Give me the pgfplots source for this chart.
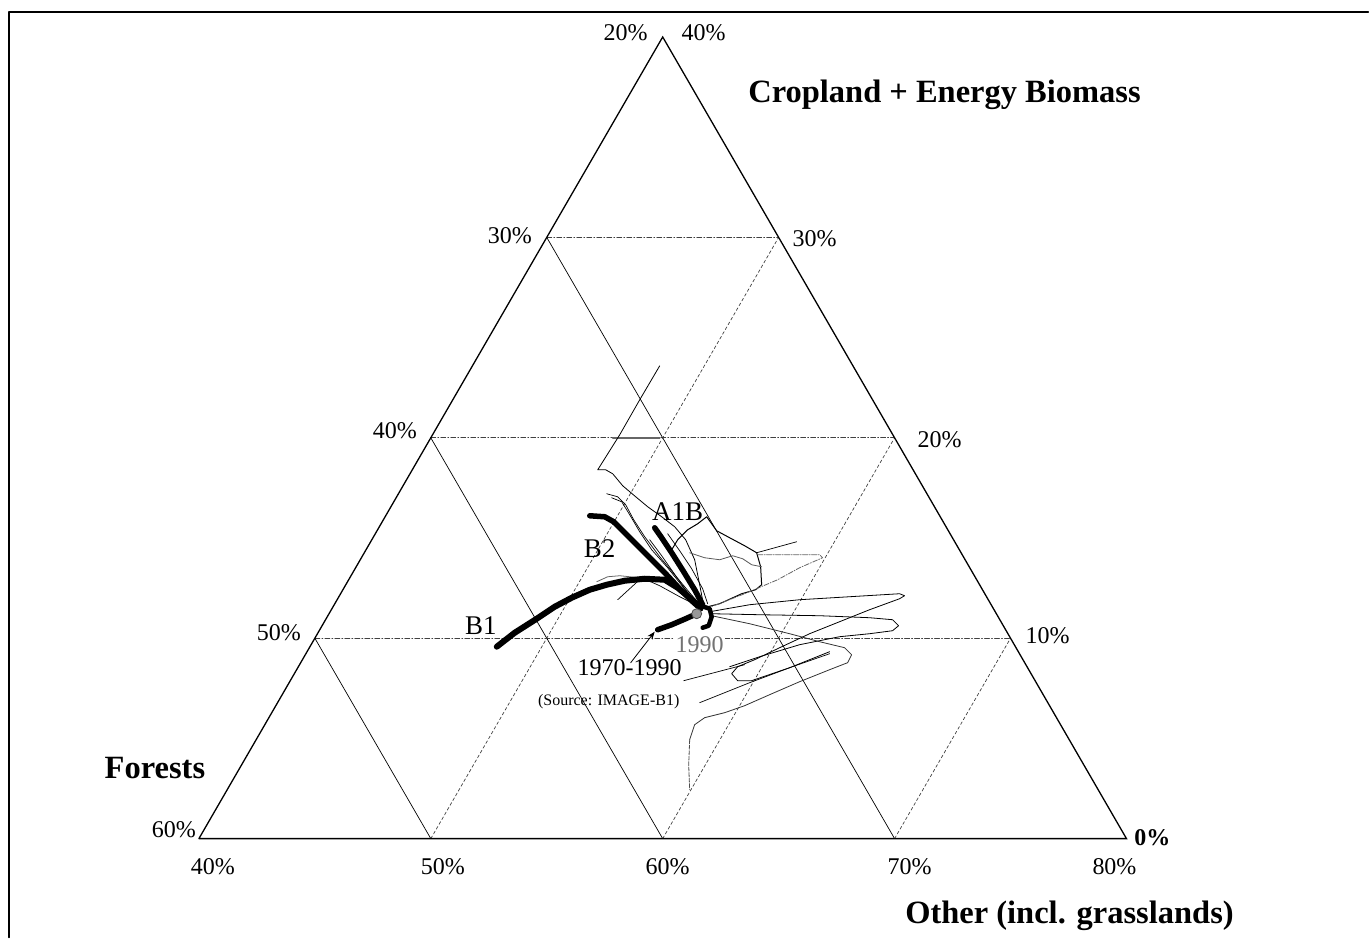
\documentclass[border=0pt]{standalone}
\usepackage{pgfplots}
\pgfplotsset{compat=1.18}
\usepackage{fontspec}
\setmainfont{Liberation Serif}
\usetikzlibrary{arrows.meta}
\tikzset{
  tl/.style={font=\fontsize{24bp}{28bp}\selectfont, inner sep=0pt},
  bl/.style={font=\fontsize{27bp}{31bp}\selectfont, inner sep=0pt},
  ttl/.style={font=\fontsize{32.5bp}{36bp}\selectfont\bfseries, inner sep=0pt},
}
\begin{document}
\begin{tikzpicture}
\begin{axis}[
  width=1369bp, height=938bp, scale only axis,
  xmin=0, xmax=1369, ymin=0, ymax=938, y dir=reverse,
  hide axis, clip=false,
  every axis plot/.append style={line join=round, line cap=round},
]
\path (axis cs:0,0) rectangle (axis cs:1369,938);
% outer frame (top and left)
\addplot[black, line width=1.3bp] coordinates {(9,938) (9,12) (1369,12)};

% ---- grid: constant cropland (dash-dot horizontals)
\addplot[black!75, line width=0.7bp, dash pattern=on 5bp off 2bp on 1bp off 2bp] coordinates {(315,638.5) (1011,638.5)};
\addplot[black!75, line width=0.7bp, dash pattern=on 5bp off 2bp on 1bp off 2bp] coordinates {(431,438) (895,438)};
\addplot[black!75, line width=0.7bp, dash pattern=on 5bp off 2bp on 1bp off 2bp] coordinates {(547,237.5) (779,237.5)};
% ---- grid: constant forests (solid)
\addplot[black, line width=0.7bp] coordinates {(315,638.5) (431,839)};
\addplot[black, line width=0.7bp] coordinates {(431,438) (663,839)};
\addplot[black, line width=0.7bp] coordinates {(547,237.5) (895,839)};
% ---- grid: constant other (dashed)
\addplot[black!75, line width=0.7bp, dash pattern=on 3bp off 2.5bp] coordinates {(431,839) (779,237.5)};
\addplot[black!75, line width=0.7bp, dash pattern=on 3bp off 2.5bp] coordinates {(663,839) (895,438)};
\addplot[black!75, line width=0.7bp, dash pattern=on 3bp off 2.5bp] coordinates {(895,839) (1011,638.5)};
% ---- triangle
\addplot[black, line width=1.3bp, line join=miter] coordinates {(199,839) (663,37) (1127,839) (199,839)};

% ---- regional trajectories (thin)
\addplot[black!60, line width=1.8bp] coordinates {(613,438) (660,438)};
\addplot[black, line width=0.8bp] coordinates {(660,366) (640,400) (620,435) (598,470) (606,470) (613,474) (623,486) (636,497) (648,507) (662,517) (675,527) (686,540) (695,560) (700,585) (704,606)};
\addplot[black, line width=0.7bp] coordinates {(607,494) (618,497) (626,505) (634,520) (645,537) (660,557) (675,575) (690,593) (703,608)};
\addplot[black, line width=0.7bp] coordinates {(612,498) (622,502) (630,515) (640,532) (652,550) (668,568) (684,588) (700,606)};
\addplot[black, line width=1.0bp] coordinates {(704,608) (720,604) (742,594) (756,590) (762,585) (761,567) (757,553) (745,546) (730,538) (717,531) (707,517) (698,524) (688,530) (678,540) (672,550)};
\addplot[black, line width=0.7bp] coordinates {(757,553) (797,542)};
\addplot[black!60, line width=0.8bp, dash pattern=on 5bp off 1.5bp on 1bp off 1.5bp] coordinates {(758,555) (820,555) (823,558) (800,568) (778,580) (745,594) (722,603) (706,609)};
\addplot[black!65, line width=0.8bp] coordinates {(690,553) (705,558) (720,560) (733,556) (743,559) (752,565) (762,567)};
\addplot[black, line width=0.7bp] coordinates {(618,600) (630,589) (642,578) (660,586) (680,597) (700,607)};
\addplot[black!60, line width=0.8bp] coordinates {(597,582) (608,577) (620,576) (640,578)};
\addplot[black, line width=0.7bp] coordinates {(668,534) (680,551) (692,569) (703,589) (708,604)};
\addplot[black, line width=0.7bp] coordinates {(650,540) (662,556) (676,576) (690,596) (700,610)};
% lower-right loops
\addplot[black, line width=0.8bp] coordinates {(710,612) (750,605) (800,600) (850,597) (900,594) (905,596) (900,599) (870,610) (840,622) (810,634) (780,648) (755,660) (738,667) (732,674) (738,681) (752,681) (790,668) (830,652)};
\addplot[black, line width=0.8bp] coordinates {(712,614) (760,615) (820,616) (870,618) (893,620) (899,626) (893,631) (870,634) (840,637) (800,645) (760,657) (730,667)};
\addplot[black!80, line width=0.8bp] coordinates {(712,616) (750,624) (790,634) (820,642) (845,648) (852,655) (848,663) (830,670) (800,682) (770,695) (745,706) (725,713) (705,718) (695,725) (690,740)};
\addplot[black!70, line width=0.8bp, dash pattern=on 4bp off 1.5bp] coordinates {(690,740) (689,765) (690,790)};
\addplot[black, line width=0.7bp] coordinates {(700,703) (725,693) (750,683) (790,668) (830,654)};
\addplot[black, line width=0.7bp] coordinates {(684,681) (745,665)};

% ---- scenario trajectories (thick)
\addplot[black, line width=6bp] coordinates {(497,647) (515,633) (537,619) (555,607) (572,598) (590,590) (607,585) (625,581) (645,579) (665,580) (678,588) (690,598) (700,607)};
\addplot[black, line width=5.5bp] coordinates {(590,516) (605,517) (614,522) (625,533) (638,546) (652,560) (666,574) (680,589) (692,601) (701,609)};
\addplot[black, line width=5.5bp] coordinates {(655,528) (662,538) (672,553) (684,572) (695,590) (703,605)};
\addplot[black, line width=5.5bp] coordinates {(658,630) (672,625) (686,619) (697,614)};
\addplot[black, line width=4.5bp] coordinates {(701,606) (710,609) (712,617) (709,626) (703,628)};
% 1990 point
\addplot[only marks, mark=*, mark size=5bp, mark options={fill=black!40, draw=black!70, line width=0.8bp}] coordinates {(697,614)};
% arrow 1970-1990
\addplot[black, line width=0.8bp, -{Stealth[length=8bp,width=6bp]}] coordinates {(631,663) (655,632)};

% ---- labels
\node[tl, fill=white, inner sep=1.5bp, text=black!55] at (axis cs:700,645) {1990};
\node[tl] at (axis cs:630,668) {1970-1990};
\node[font=\fontsize{16bp}{19bp}\selectfont, inner sep=0pt] at (axis cs:609,702) {(Source: IMAGE-B1)};
\node[bl] at (axis cs:481,626) {B1};
\node[bl] at (axis cs:600,549) {B2};
\node[bl] at (axis cs:678,512) {A1B};

% tick labels: Forests (left edge)
\node[tl] at (axis cs:174,830) {60\%};
\node[tl] at (axis cs:279,633) {50\%};
\node[tl] at (axis cs:395,431) {40\%};
\node[tl] at (axis cs:510,236) {30\%};
\node[tl] at (axis cs:626,33) {20\%};
% tick labels: Cropland (right edge)
\node[tl] at (axis cs:704,33) {40\%};
\node[tl] at (axis cs:815,239) {30\%};
\node[tl] at (axis cs:940,440) {20\%};
\node[tl] at (axis cs:1048,636) {10\%};
\node[tl, font=\fontsize{24bp}{28bp}\selectfont\bfseries] at (axis cs:1153,838) {0\%};
% tick labels: Other (bottom)
\node[tl] at (axis cs:213,867) {40\%};
\node[tl] at (axis cs:443,867) {50\%};
\node[tl] at (axis cs:668,867) {60\%};
\node[tl] at (axis cs:910,867) {70\%};
\node[tl] at (axis cs:1115,867) {80\%};

% titles
\node[ttl] at (axis cs:945,95) {Cropland + Energy Biomass};
\node[ttl] at (axis cs:155,768) {Forests};
\node[ttl] at (axis cs:1070,916) {Other (incl. grasslands)};
\end{axis}
\end{tikzpicture}
\end{document}
